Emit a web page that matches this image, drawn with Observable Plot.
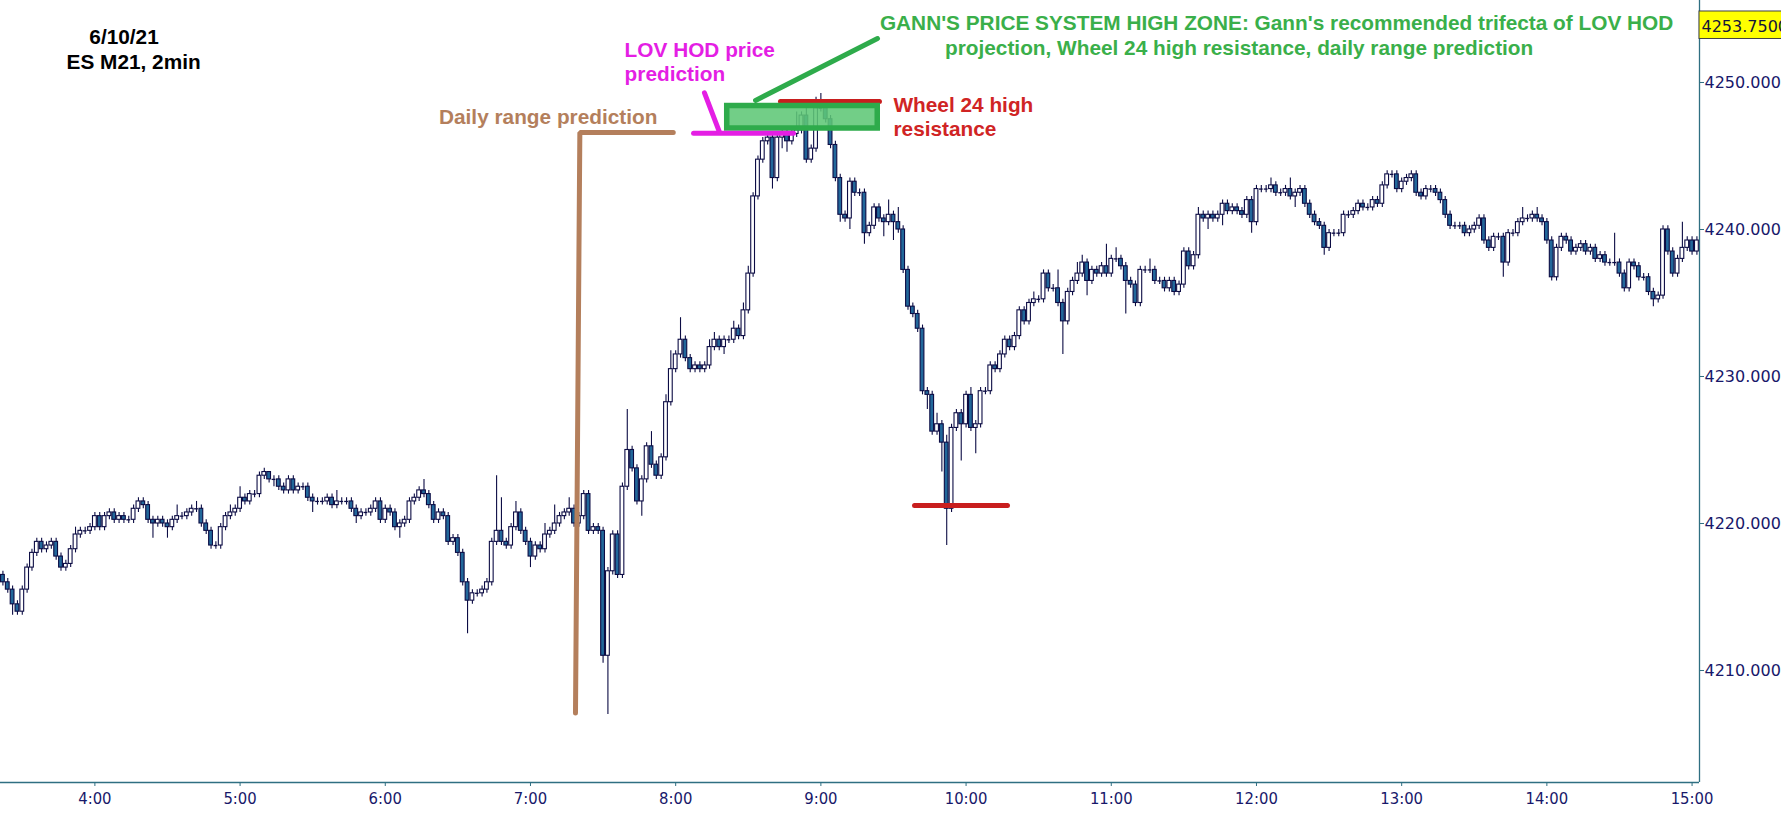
<!DOCTYPE html>
<html>
<head>
<meta charset="utf-8">
<script src="https://cdn.jsdelivr.net/npm/d3@7"></script>
<script src="https://cdn.jsdelivr.net/npm/@observablehq/plot@0.6"></script>
<style>
  html, body { margin: 0; padding: 0; background: #fff; overflow: hidden; }
  #chart { width: 1781px; height: 839px; }
  [aria-label="x-axis tick label"] text { font-stretch: condensed; }
</style>
</head>
<body>
<div id="chart"></div>
<script>
// ---------- data ----------
const firstBarTime = "3:22";      // centre of the first 2-minute bar
const barMinutes = 2;
const firstOpen = 4216.5;

// closing price of each 2-minute bar (10 per row)
const closes = [
  4216.0, 4215.5, 4214.5, 4214.0, 4215.5, 4217.0, 4218.0, 4218.75, 4218.25, 4218.5,
  4218.75, 4217.75, 4217.0, 4217.25, 4218.25, 4219.25, 4219.5, 4219.5, 4219.75, 4220.5,
  4219.75, 4220.5, 4220.75, 4220.25, 4220.5, 4220.25, 4220.25, 4221.0, 4221.5, 4221.25,
  4220.25, 4220.0, 4220.25, 4220.0, 4219.75, 4220.25, 4220.5, 4220.5, 4220.75, 4221.0,
  4221.0, 4220.0, 4219.5, 4218.5, 4218.5, 4219.75, 4220.5, 4220.75, 4221.0, 4221.75,
  4221.5, 4222.0, 4222.0, 4223.25, 4223.5, 4223.0, 4223.0, 4222.5, 4222.25, 4223.0,
  4222.25, 4222.5, 4222.5, 4221.75, 4221.5, 4221.5, 4221.5, 4221.75, 4221.25, 4221.5,
  4221.5, 4221.5, 4221.0, 4220.5, 4220.75, 4220.75, 4221.0, 4221.5, 4220.25, 4221.0,
  4220.75, 4219.75, 4220.0, 4220.25, 4221.5, 4221.75, 4222.25, 4222.0, 4221.25, 4220.25,
  4220.75, 4220.5, 4218.75, 4219.0, 4218.0, 4216.0, 4214.75, 4215.25, 4215.25, 4215.5,
  4216.0, 4218.75, 4219.5, 4218.75, 4218.5, 4219.75, 4220.75, 4219.5, 4218.75, 4217.75,
  4218.5, 4218.25, 4219.25, 4219.5, 4220.0, 4220.5, 4220.75, 4221.0, 4220.0, 4220.5,
  4222.0, 4219.5, 4219.75, 4219.5, 4211.0, 4216.75, 4219.25, 4216.5, 4222.5, 4225.0,
  4223.75, 4221.5, 4223.0, 4225.25, 4224.0, 4223.25, 4224.5, 4228.25, 4230.5, 4231.5,
  4232.5, 4231.25, 4230.5, 4230.75, 4230.5, 4230.75, 4232.0, 4232.5, 4232.0, 4232.5,
  4232.5, 4233.25, 4232.75, 4234.5, 4237.0, 4242.25, 4244.75, 4246.0, 4246.25, 4243.5,
  4246.25, 4246.5, 4246.0, 4246.5, 4246.75, 4247.75, 4244.75, 4245.5, 4248.25, 4248.25,
  4247.5, 4245.75, 4243.5, 4241.0, 4240.75, 4243.25, 4242.5, 4242.5, 4239.75, 4240.25,
  4241.5, 4240.75, 4240.5, 4241.0, 4240.5, 4240.0, 4237.25, 4234.75, 4234.25, 4233.25,
  4229.0, 4228.75, 4226.25, 4226.75, 4225.5, 4221.0, 4226.5, 4227.5, 4226.75, 4228.75,
  4226.5, 4226.75, 4229.0, 4229.0, 4230.75, 4230.5, 4231.5, 4232.5, 4232.0, 4232.75,
  4234.5, 4233.75, 4235.0, 4235.25, 4235.25, 4237.0, 4236.0, 4236.0, 4235.0, 4233.75,
  4235.75, 4236.5, 4237.0, 4237.75, 4236.5, 4237.25, 4237.0, 4237.5, 4237.0, 4238.0,
  4238.0, 4237.5, 4236.5, 4236.25, 4235.0, 4237.25, 4237.25, 4237.25, 4236.5, 4236.5,
  4236.0, 4236.5, 4235.75, 4236.25, 4238.5, 4237.5, 4238.25, 4241.0, 4240.75, 4241.0,
  4240.75, 4241.0, 4241.75, 4241.25, 4241.5, 4241.25, 4241.0, 4242.0, 4240.5, 4242.75,
  4242.75, 4242.75, 4243.0, 4242.5, 4242.5, 4242.75, 4242.25, 4242.5, 4242.75, 4241.75,
  4241.0, 4240.5, 4240.25, 4238.75, 4239.75, 4239.75, 4239.75, 4241.0, 4241.0, 4241.25,
  4241.75, 4241.5, 4241.5, 4242.0, 4241.75, 4243.0, 4243.75, 4243.75, 4242.75, 4243.25,
  4243.5, 4243.75, 4242.5, 4242.25, 4242.75, 4242.75, 4242.5, 4242.0, 4241.0, 4240.25,
  4240.25, 4240.25, 4239.75, 4240.0, 4240.25, 4240.75, 4239.25, 4238.75, 4239.5, 4239.5,
  4237.75, 4239.75, 4239.75, 4240.5, 4240.75, 4240.75, 4241.0, 4240.75, 4240.5, 4239.25,
  4236.75, 4238.75, 4239.5, 4239.25, 4238.5, 4238.75, 4239.0, 4238.5, 4238.75, 4238.0,
  4238.25, 4237.75, 4237.75, 4237.75, 4237.0, 4236.0, 4237.75, 4237.5, 4236.75, 4236.75,
  4235.75, 4235.25, 4235.5, 4240.0, 4238.5, 4237.0, 4238.0, 4238.75, 4239.25, 4238.5,
  4239.25
];

// usual wick beyond the body: one tick
const tick = 0.25;
// bars with longer upper wicks: [bar index, high]
const highWicks = [
  [15, 4219.75], [19, 4220.75], [28, 4221.75], [36, 4221.25], [40, 4221.5], [47, 4221.25],
  [49, 4222.5], [55, 4223.5], [69, 4222.25], [87, 4223.0], [102, 4223.25], [103, 4221.75],
  [106, 4221.5], [112, 4220.0], [114, 4221.25], [117, 4221.75], [129, 4227.75], [134, 4226.25],
  [137, 4228.75], [138, 4231.75], [140, 4234.0], [146, 4232.5], [147, 4233.0], [151, 4233.75],
  [153, 4235.0], [154, 4237.5], [164, 4248.0], [166, 4248.5], [168, 4249.0], [169, 4249.25],
  [183, 4242.0], [185, 4241.5], [187, 4237.5], [193, 4227.5], [195, 4226.0], [200, 4229.25],
  [213, 4235.75], [218, 4237.25], [222, 4237.75], [223, 4238.25], [228, 4239.0], [230, 4238.75],
  [237, 4238.0], [247, 4241.5], [262, 4243.5], [266, 4243.5], [314, 4241.5], [317, 4241.5],
  [333, 4239.75], [344, 4240.25], [347, 4240.5]
];
// bars with longer lower wicks: [bar index, low]
const lowWicks = [
  [2, 4213.75], [31, 4219.0], [34, 4219.0], [44, 4218.25], [56, 4222.5], [64, 4220.75],
  [73, 4220.0], [82, 4219.0], [96, 4212.5], [109, 4217.0], [124, 4210.5], [125, 4207.0],
  [132, 4220.5], [138, 4228.0], [149, 4231.5], [159, 4242.75], [161, 4245.5], [162, 4245.25],
  [167, 4244.5], [173, 4240.5], [175, 4240.0], [178, 4239.0], [182, 4239.5], [184, 4239.25],
  [191, 4227.75], [194, 4223.5], [195, 4218.5], [198, 4224.25], [201, 4224.75], [219, 4231.5],
  [224, 4235.5], [232, 4234.25], [249, 4240.0], [252, 4240.25], [258, 4239.75], [267, 4241.5],
  [273, 4238.25], [310, 4236.75], [341, 4234.75]
];

// axis ticks
const hourTicks = ["4:00","5:00","6:00","7:00","8:00","9:00","10:00","11:00","12:00","13:00","14:00","15:00"];
const priceTicks = [4210, 4220, 4230, 4240, 4250];
const markerPrice = 4253.75;

// annotation geometry, in chart units [time, price]
const dailyRangePath = [["7:18.6", 4207.1], ["7:20.4", 4246.6], ["7:59", 4246.6]];
const lovHodSegments = [
  [["8:07.4", 4246.55], ["8:48.7", 4246.55]],
  [["8:11.9", 4249.3], ["8:18.1", 4246.62]]
];
const gannZone = [["8:21.3", 4248.4], ["9:23.5", 4246.87]];
const gannPointer = [["8:33", 4248.78], ["9:23.4", 4252.99]];
const wheelHigh = [["8:43.3", 4248.71], ["9:24.2", 4248.71]];
const wheelLow = [["9:38.7", 4221.22], ["10:17.1", 4221.22]];

// texts
const titleTexts = [
  {t: "3:57.7", p: 4253.1, text: "6/10/21"},
  {t: "3:48.3", p: 4251.39, text: "ES M21, 2min"}
];
const gannTexts = [
  {t: "9:24.4", p: 4254.03, text: "GANN'S PRICE SYSTEM HIGH ZONE: Gann's recommended trifecta of LOV HOD"},
  {t: "9:51.3", p: 4252.33, text: "projection, Wheel 24 high resistance, daily range prediction"}
];
const lovTexts = [
  {t: "7:38.9", p: 4252.17, text: "LOV HOD price"},
  {t: "7:38.9", p: 4250.54, text: "prediction"}
];
const dailyTexts = [{t: "6:22.2", p: 4247.6, text: "Daily range prediction"}];
const wheelTexts = [
  {t: "9:30", p: 4248.45, text: "Wheel 24 high"},
  {t: "9:30", p: 4246.82, text: "resistance"}
];

// ---------- build ----------
const hm = s => { const [h, m] = s.split(":").map(Number); return h * 60 + m; };
const t0 = hm(firstBarTime);
const highMap = new Map(highWicks);
const lowMap = new Map(lowWicks);
const bars = closes.map((c, i) => {
  const o = i === 0 ? firstOpen : closes[i - 1];
  const h = highMap.has(i) ? highMap.get(i) : Math.max(o, c) + tick;
  const l = lowMap.has(i) ? lowMap.get(i) : Math.min(o, c) - tick;
  return {t: t0 + i * barMinutes, o, h, l, c};
});
const bodies = bars.filter(d => d.o !== d.c);
const dojis = bars.filter(d => d.o === d.c);
const half = 0.78;

const xDomain = [201, 903.07];
const yDomain = [4202.38, 4255.578];

const navy = "#0c0c44";
const blueFill = "#22679a";
const axisTeal = "#2f6f82";
const labelNavy = "#18186a";
const green = "#3aaf4a";
const magenta = "#e41ee4";
const brown = "#b47f5c";
const red = "#d02424";
const annotFont = "Liberation Sans, Arial, sans-serif";

const seg = (pts) => pts.map(([t, p]) => ({t: hm(t), p}));
const txt = (arr) => arr.map(d => ({...d, x: hm(d.t)}));

const textOpts = (fill) => ({
  x: "x", y: "p", text: "text", fill, fontSize: 20.8, fontWeight: "bold",
  fontFamily: annotFont, textAnchor: "start", lineAnchor: "middle"
});

const chart = Plot.plot({
  width: 1781,
  height: 839,
  marginLeft: 0,
  marginRight: 82,
  marginTop: 0,
  marginBottom: 57,
  x: {type: "linear", domain: xDomain, axis: null},
  y: {type: "linear", domain: yDomain, axis: null},
  style: {background: "#ffffff", color: labelNavy},
  marks: [
    // axes
    Plot.ruleY([yDomain[0]], {stroke: axisTeal, strokeWidth: 1.3}),
    Plot.ruleX([xDomain[1]], {stroke: axisTeal, strokeWidth: 1.3}),
    Plot.axisX(hourTicks.map(hm), {
      anchor: "bottom", tickFormat: m => `${Math.floor(m / 60)}:00`,
      tickSize: 4, tickPadding: 6, stroke: axisTeal, fill: labelNavy,
      fontSize: 16.5, fontFamily: "DejaVu Sans Condensed, DejaVu Sans, sans-serif"
    }),
    Plot.axisY(priceTicks, {
      anchor: "right", tickFormat: d => d.toFixed(4), tickSize: 4, tickPadding: 1,
      stroke: axisTeal, fill: labelNavy, fontSize: 16,
      fontFamily: "DejaVu Sans, Verdana, sans-serif", textAnchor: "start"
    }),
    // last-price marker
    Plot.rect([{p1: 4254.83, p2: 4252.96}], {
      x1: xDomain[1], x2: xDomain[1] + 40, y1: "p1", y2: "p2",
      fill: "#ffff00", stroke: "#404040", strokeWidth: 1
    }),
    Plot.text([markerPrice], {
      x: xDomain[1], y: d => d, text: d => d.toFixed(4), dx: 2,
      textAnchor: "start", fill: "#15153a", fontSize: 16,
      fontFamily: "DejaVu Sans, Verdana, sans-serif"
    }),
    // candles
    Plot.ruleX(bars, {x: "t", y1: "l", y2: "h", stroke: navy, strokeWidth: 1.1}),
    Plot.rect(bodies, {
      x1: d => d.t - half, x2: d => d.t + half, y1: "o", y2: "c",
      fill: d => d.c > d.o ? "#ffffff" : blueFill, stroke: navy, strokeWidth: 1.1
    }),
    Plot.ruleY(dojis, {x1: d => d.t - half, x2: d => d.t + half, y: "c", stroke: navy, strokeWidth: 1.3}),
    // annotations
    Plot.line(seg(wheelHigh), {x: "t", y: "p", stroke: "#c81e1e", strokeWidth: 5}),
    Plot.rect([seg(gannZone)], {
      x1: d => d[0].t, x2: d => d[1].t, y1: d => d[0].p, y2: d => d[1].p,
      fill: "#5ec776", fillOpacity: 0.88, stroke: "#2eab4b", strokeWidth: 5.5
    }),
    Plot.line(seg(gannPointer), {x: "t", y: "p", stroke: "#2eab4b", strokeWidth: 5, strokeLinecap: "round"}),
    ...lovHodSegments.map(s => Plot.line(seg(s), {x: "t", y: "p", stroke: magenta, strokeWidth: 5, strokeLinecap: "round"})),
    Plot.line(seg(dailyRangePath), {x: "t", y: "p", stroke: brown, strokeWidth: 5, strokeLinecap: "round", strokeLinejoin: "miter"}),
    Plot.line(seg(wheelLow), {x: "t", y: "p", stroke: "#c81e1e", strokeWidth: 5}),
    // texts
    Plot.text(txt(titleTexts), textOpts("#000000")),
    Plot.text(txt(gannTexts), textOpts(green)),
    Plot.text(txt(lovTexts), textOpts(magenta)),
    Plot.text(txt(dailyTexts), textOpts(brown)),
    Plot.text(txt(wheelTexts), textOpts(red))
  ]
});
document.getElementById("chart").appendChild(chart);
</script>
</body>
</html>
